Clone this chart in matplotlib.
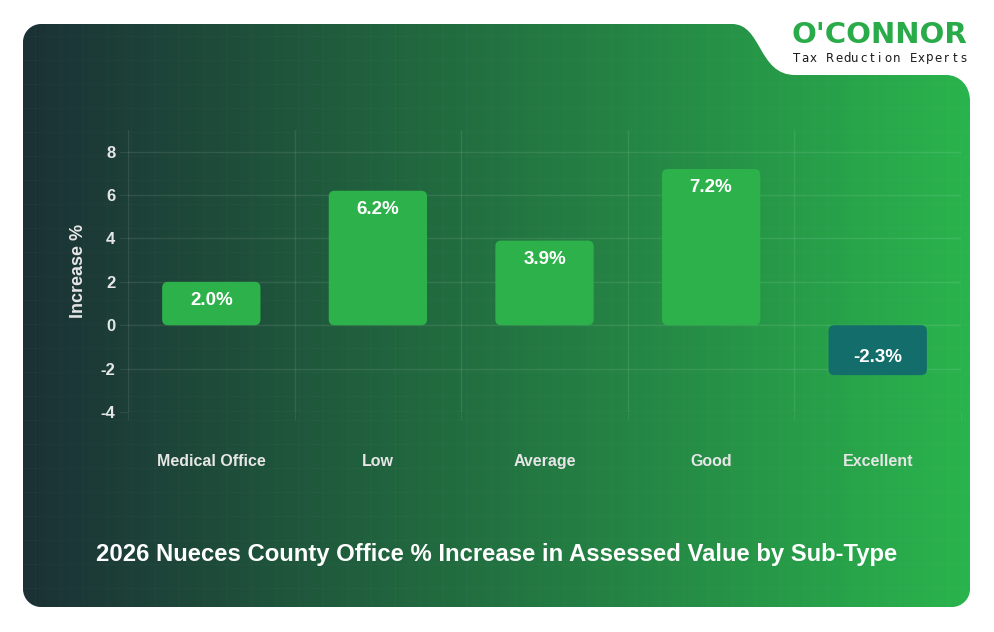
import numpy as np
import matplotlib
matplotlib.use("Agg")
import matplotlib.pyplot as plt
from matplotlib.path import Path
from matplotlib.patches import PathPatch, FancyBboxPatch

categories = ["Medical Office", "Low", "Average", "Good", "Excellent"]
values = [2.0, 6.2, 3.9, 7.2, -2.3]
labels = ["2.0%", "6.2%", "3.9%", "7.2%", "-2.3%"]
yticks = [-4, -2, 0, 2, 4, 6, 8]
title = "2026 Nueces County Office % Increase in Assessed Value by Sub-Type"

W, H = 994, 632
fig = plt.figure(figsize=(W / 100, H / 100), dpi=100)
fig.patch.set_facecolor("white")

# background layer in pixel coordinates
bg = fig.add_axes([0, 0, 1, 1])
bg.set_xlim(0, W)
bg.set_ylim(H, 0)
bg.axis("off")

L, T, R, B = 23, 24, 970, 607
r = 18
M, C, Lt, Q = Path.MOVETO, Path.CURVE4, Path.LINETO, Path.CLOSEPOLY
verts = [
    (L + r, T), (732, T),
    (762, T), (758, 75), (795, 75),
    (946, 75),
    (960, 75), (R, 86), (R, 101),
    (R, B - r),
    (R, B - r * 0.45), (R - r * 0.45, B), (R - r, B),
    (L + r, B),
    (L + r * 0.45, B), (L, B - r * 0.45), (L, B - r),
    (L, T + r),
    (L, T + r * 0.45), (L + r * 0.45, T), (L + r, T),
    (L + r, T),
]
codes = [M, Lt, C, C, C, Lt, C, C, C, Lt, C, C, C, Lt, C, C, C, Lt, C, C, C, Q]
panel = PathPatch(Path(verts, codes), facecolor="none", edgecolor="none")
bg.add_patch(panel)

c0 = np.array([27, 49, 53]) / 255
c1 = np.array([42, 180, 77]) / 255
t = np.linspace(0, 1, 400)
grad = (c0[None, :] * (1 - t[:, None]) + c1[None, :] * t[:, None])[None, :, :]
im = bg.imshow(grad, extent=[L, R, B, T], aspect="auto", zorder=0)
im.set_clip_path(panel)

# faint texture grid
for gx in np.arange(L + 12, R, 24):
    ln = bg.plot([gx, gx], [T, B], color="white", alpha=0.02, lw=0.8, zorder=1)[0]
    ln.set_clip_path(panel)
for gy in np.arange(T + 12, B, 24):
    ln = bg.plot([L, R], [gy, gy], color="white", alpha=0.02, lw=0.8, zorder=1)[0]
    ln.set_clip_path(panel)

# logo
bg.text(879, 35, "O'CONNOR", color="#2aab4a", fontsize=21, fontweight="heavy",
        family=["DejaVu Sans"], ha="center", va="center")
sub = "Tax Reduction Experts"
xs = np.linspace(797, 963, len(sub))
for ch, x in zip(sub, xs):
    bg.text(x, 58, ch, color="#1a1a1a", fontsize=8.5, fontweight="medium",
            family=["DejaVu Sans"], ha="center", va="center")

# title
bg.text(497, 555, title, color="white", fontsize=17.2, fontweight="bold",
        family=["Liberation Sans", "DejaVu Sans"], ha="center", va="center")

# chart axes
x0, x1, ytop, ybot = 128, 961, 130, 412
ax = fig.add_axes([x0 / W, 1 - ybot / H, (x1 - x0) / W, (ybot - ytop) / H])
ax.patch.set_alpha(0)
xpos = np.arange(len(categories))
ax.set_xlim(-0.5, len(categories) - 0.5)
ax.set_ylim(-4, 9)
for s in ax.spines.values():
    s.set_visible(False)

gridc = (1, 1, 1, 0.09)
ax.set_yticks(yticks)
ax.set_yticklabels([str(v) for v in yticks])
ax.set_xticks(xpos)
ax.set_xticklabels(categories)
ax.set_xticks(np.arange(-0.5, len(categories)), minor=True)
ax.grid(True, axis="y", which="major", color="white", alpha=0.09, lw=1)
ax.grid(True, axis="x", which="minor", color="white", alpha=0.09, lw=1)
ax.tick_params(axis="y", which="major", length=6, color=gridc, pad=3,
               labelcolor="#e6e6e6", labelsize=12)
ax.tick_params(axis="x", which="major", length=0, pad=30, labelcolor="#e6e6e6",
               labelsize=11.5)
ax.tick_params(axis="x", which="minor", length=6, color=gridc)
for lab in ax.get_yticklabels():
    lab.set_fontweight("bold")
    lab.set_family(["Liberation Sans", "DejaVu Sans"])
for lab in ax.get_xticklabels():
    lab.set_fontweight("bold")
    lab.set_family(["Liberation Sans", "DejaVu Sans"])

ax.set_ylabel("Increase %", color="#e6e6e6", fontsize=13, fontweight="bold",
              family=["Liberation Sans", "DejaVu Sans"], labelpad=10)

colors = ["#2db24b" if v >= 0 else "#126d6b" for v in values]
bars = ax.bar(xpos, values, width=0.59, color=colors)
aspect = (x1 - x0) / len(categories) / ((ybot - ytop) / 13.0)
for rect, col in zip(bars, colors):
    rect.set_visible(False)
    bx, by = rect.get_x(), rect.get_y()
    bw, bh = rect.get_width(), rect.get_height()
    if bh < 0:
        by, bh = by + bh, -bh
    fb = FancyBboxPatch((bx, by), bw, bh,
                        boxstyle="round,pad=0,rounding_size=0.035",
                        mutation_aspect=aspect, facecolor=col, edgecolor="none",
                        zorder=3)
    ax.add_patch(fb)

for xp, v, lab in zip(xpos, values, labels):
    off = -13.5 if v >= 0 else 12.5
    ax.annotate(lab, (xp, v), xytext=(0, off), textcoords="offset points",
                ha="center", va="center", color="white", fontsize=13.5,
                fontweight="bold", family=["Liberation Sans", "DejaVu Sans"],
                zorder=4)

fig.savefig("out.png", dpi=100, facecolor="white")
